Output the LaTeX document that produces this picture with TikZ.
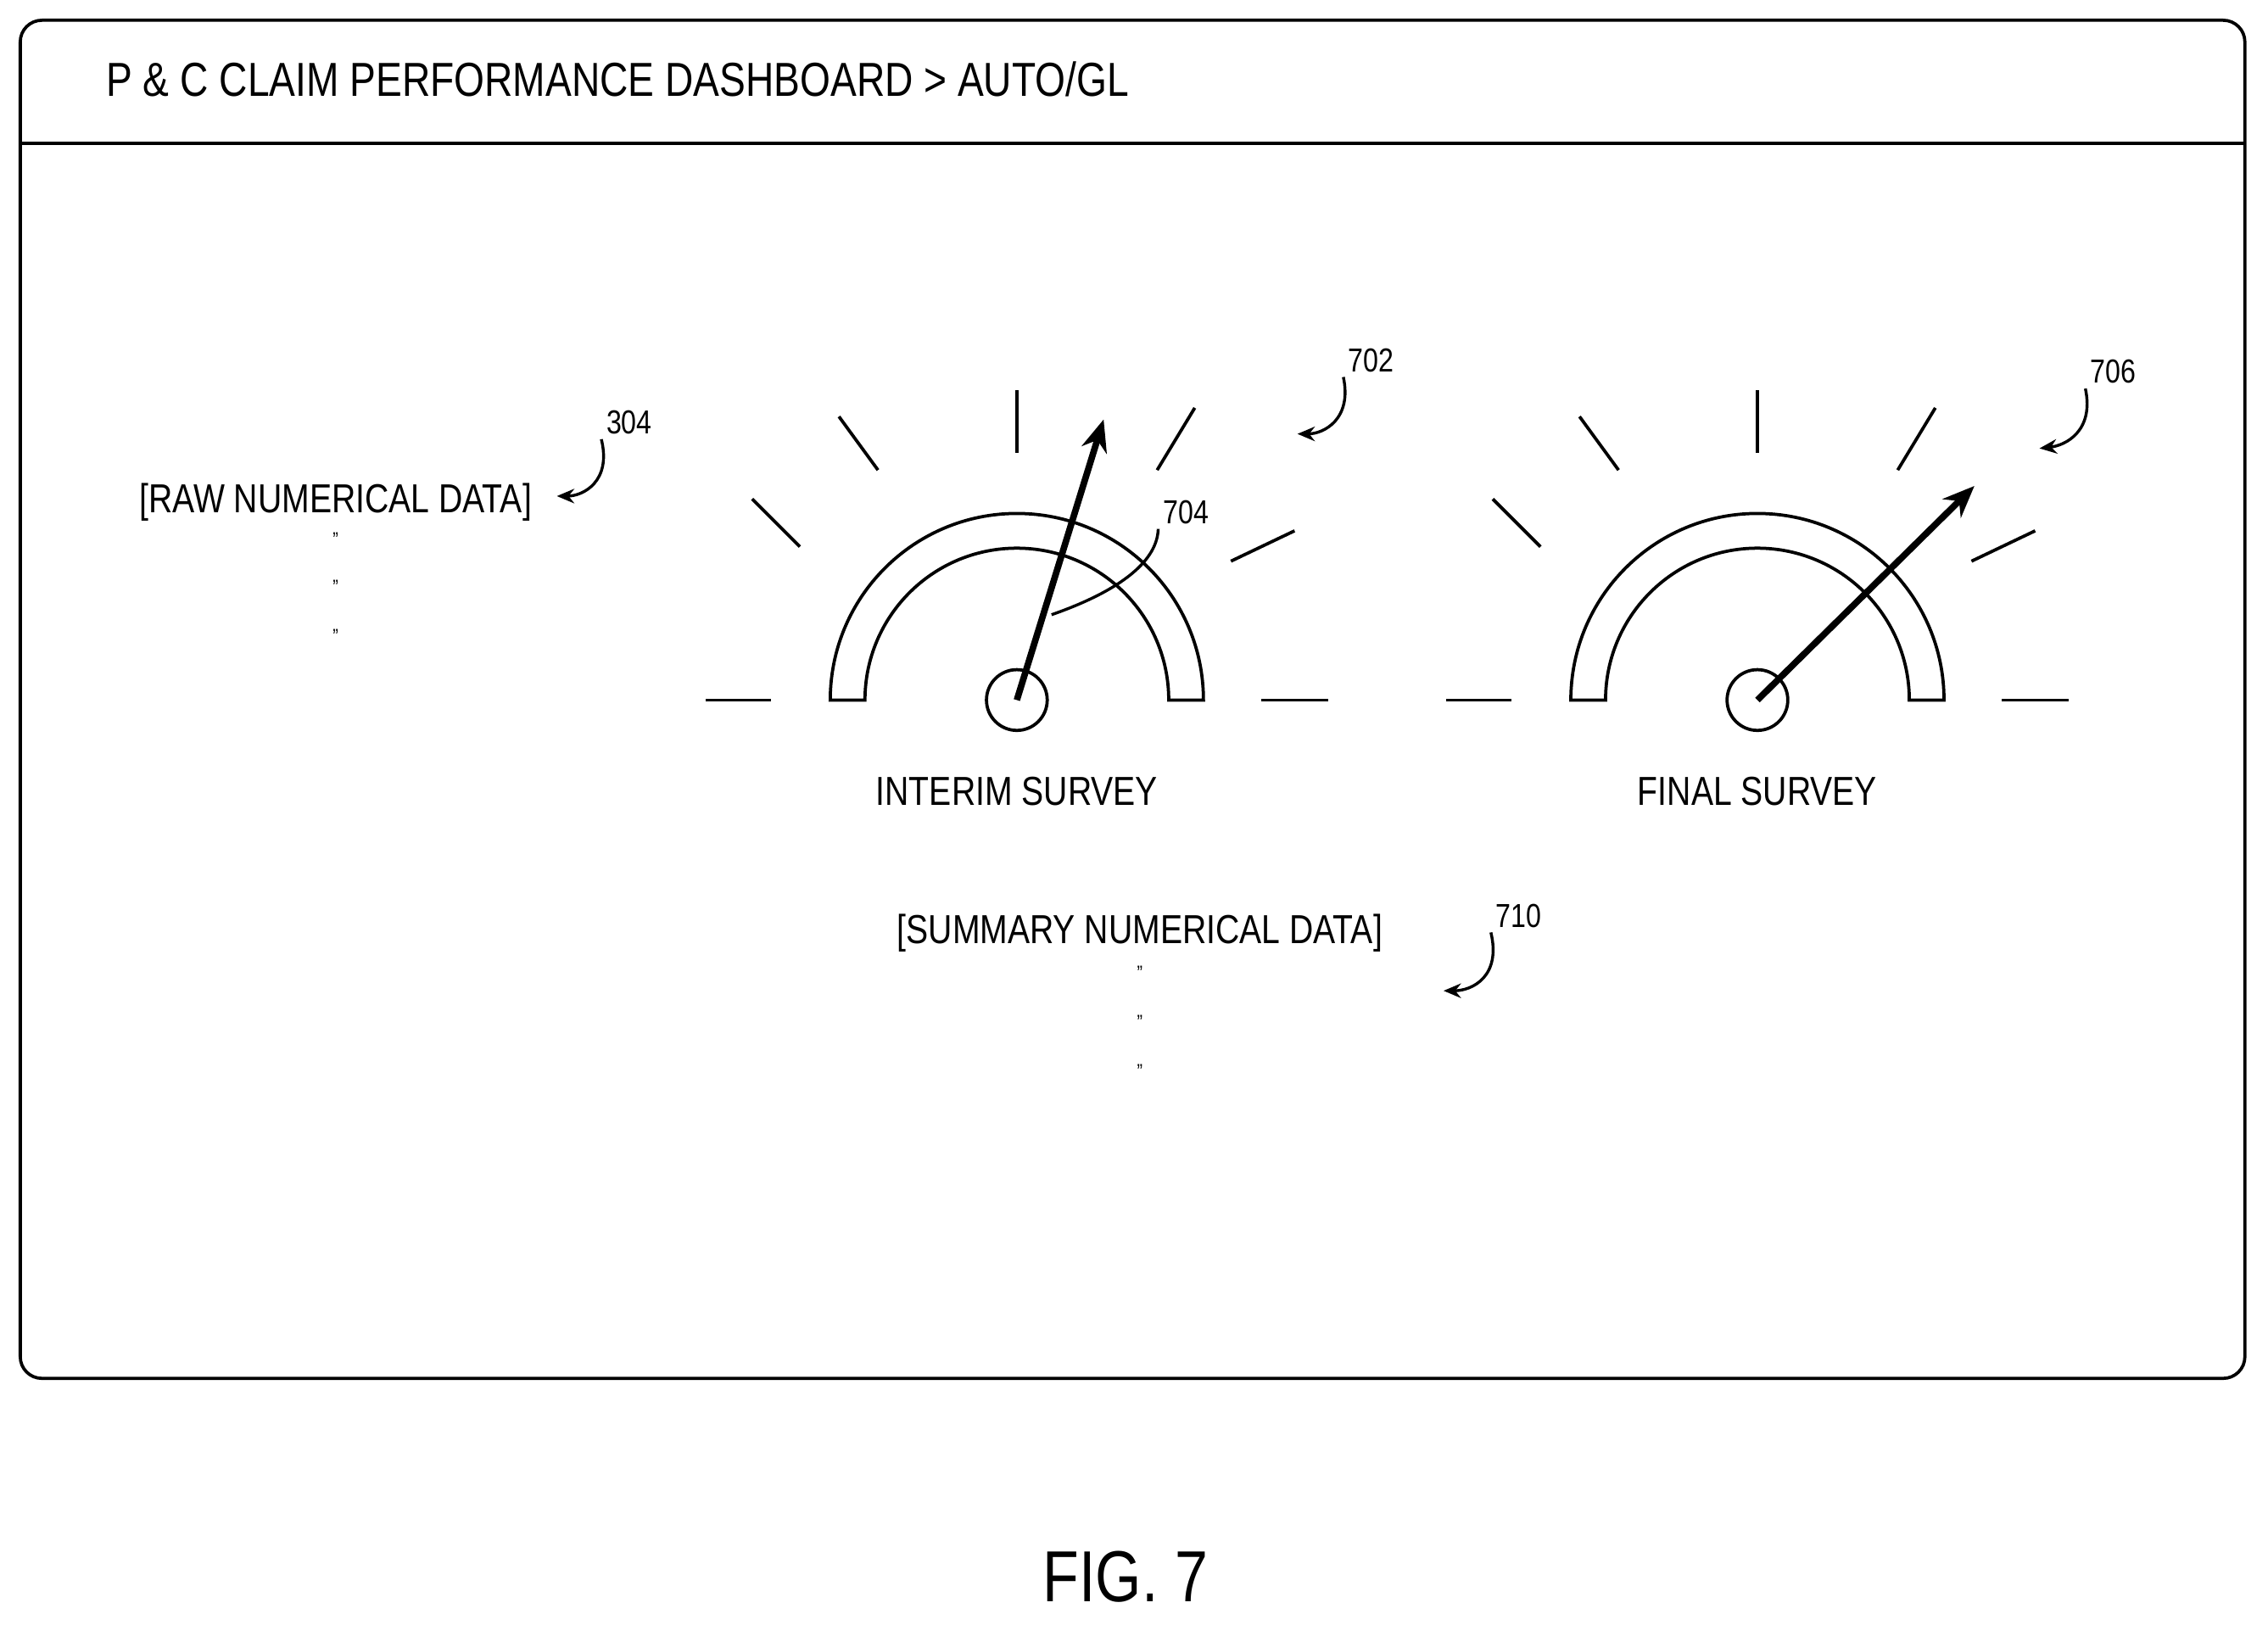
\documentclass[tikz,border=0pt]{standalone}
\usepackage{fontspec}
\setmainfont{Liberation Sans}[FakeStretch=0.82]
\usetikzlibrary{arrows.meta}
\begin{document}
\begin{tikzpicture}[x=1pt,y=-1pt,
  ln/.style={line width=2.2pt},
  lbl/.style={font=\fontsize{28}{30}\selectfont},
  num/.style={font=\fontsize{23}{25}\selectfont},
  lead/.style={line width=2pt,-{Stealth[length=12pt,width=10pt]}},
  needle/.style={line width=4.5pt,-{Stealth[length=22pt,width=18pt]}},
  dot/.style={font=\fontsize{14}{14}\selectfont}]
\useasboundingbox (0,0) rectangle (1568,1123);
\draw[ln,rounded corners=15pt] (14,14) rectangle (1552,953);
\draw[ln] (14,99) -- (1552,99);
\node[font=\fontsize{33}{36}\selectfont,anchor=west] (title) at (70,55) {P \& C CLAIM PERFORMANCE DASHBOARD > AUTO/GL};
% gauges
\foreach \dx/\g in {0/a,512/b}{
  \begin{scope}[xshift=\dx pt]
  \draw[ln] (574,484) arc[start angle=180,end angle=360,radius=129] -- (808,484) arc[start angle=360,end angle=180,radius=105] -- cycle;
  \node[draw,circle,ln,minimum size=42pt,inner sep=0] (hub\g) at (703,484) {};
  \coordinate (c\g) at (703,484);
  \draw[ln] (488,484) -- (533,484);
  \draw[ln] (872,484) -- (918,484);
  \draw[ln] (520,345) -- (553,378);
  \draw[ln] (580,288) -- (607,325);
  \draw[ln] (703,270) -- (703,313);
  \draw[ln] (826,282) -- (800,325);
  \draw[ln] (895,367) -- (851,388);
  \end{scope}}
\coordinate (tipa) at (763,290);
\coordinate (tipb) at (1365,336);
\draw[needle] (ca) -- (tipa);
\draw[needle] (cb) -- (tipb);
\node[lbl] (interim) at (703,547) {INTERIM SURVEY};
\node[lbl] (final) at (1215,547) {FINAL SURVEY};
% labels
\node[num] (n704) at (820,354) {704};
\coordinate (l704) at (727,425);
\draw[line width=2pt] (l704) .. controls (770,410) and (800,390) .. (n704.south west);
\node[num] (n702) at (948,249) {702};
\coordinate (e702) at (897,300);
\draw[lead] (n702.south west) .. controls (935,290) and (915,300) .. (e702);
\node[num] (n706) at (1461,257) {706};
\coordinate (e706) at (1410,310);
\draw[lead] (n706.south west) .. controls (1448,298) and (1428,308) .. (e706);
\node[num] (n304) at (435,292) {304};
\coordinate (e304) at (385,343);
\draw[lead] (n304.south west) .. controls (423,333) and (403,343) .. (e304);
\node[num] (n710) at (1050,633) {710};
\coordinate (e710) at (998,685);
\draw[lead] (n710.south west) .. controls (1038,675) and (1018,685) .. (e710);
\node[lbl] (raw) at (232,347) {[RAW NUMERICAL DATA]};
\foreach \y in {373,406,440} \node[dot] at (232,\y) {"};
\node[lbl] (sum) at (788,645) {[SUMMARY NUMERICAL DATA]};
\foreach \y in {673,707,741} \node[dot] at (788,\y) {"};
\node[font=\fontsize{50}{54}\selectfont] (fig) at (778,1090) {FIG. 7};
\end{tikzpicture}
\end{document}
